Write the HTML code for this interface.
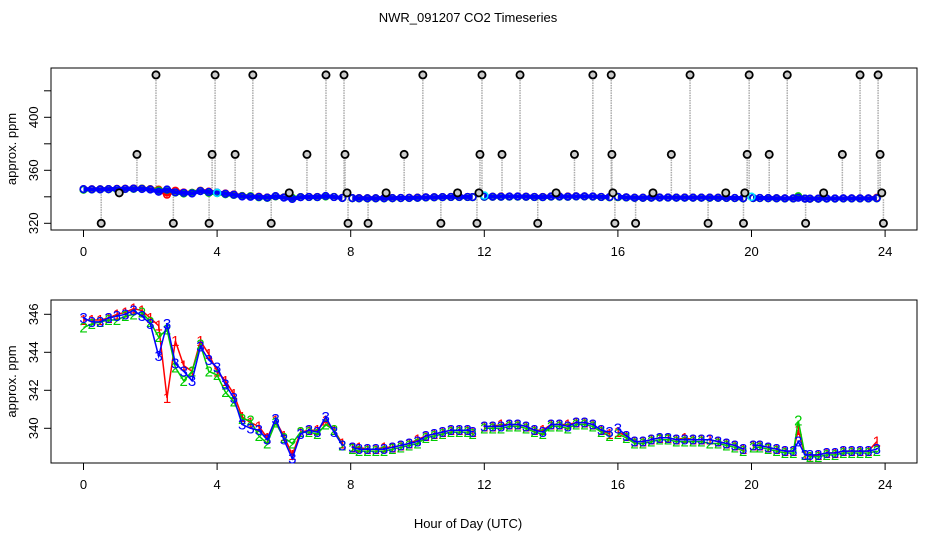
<!DOCTYPE html>
<html><head><meta charset="utf-8">
<style>
html,body{margin:0;padding:0;background:#fff;}
svg{display:block;font-family:"Liberation Sans",sans-serif;}
</style></head>
<body>
<svg id="chart" width="936" height="540" viewBox="0 0 936 540">
<rect x="0" y="0" width="936" height="540" fill="#fff"/>
<text x="468" y="22" text-anchor="middle" font-size="13">NWR_091207  CO2 Timeseries</text>
<text x="468" y="528" text-anchor="middle" font-size="13">Hour of Day (UTC)</text>
<g id="topPanel"></g>
<g id="botPanel"></g>
</svg>
<script>
const hours = [0,0.25,0.5,0.75,1,1.25,1.5,1.75,2,2.25,2.5,2.75,3,3.25,3.5,3.75,4,4.25,4.5,4.75,5,5.25,5.5,5.75,6,6.25,6.5,6.75,7,7.25,7.5,7.75,7.9,8.05,8.25,8.5,8.75,9,9.25,9.5,9.75,10,10.25,10.5,10.75,11,11.25,11.5,11.65,11.8,12,12.25,12.5,12.75,13,13.25,13.5,13.75,14,14.25,14.5,14.75,15,15.25,15.5,15.75,15.9,16,16.25,16.5,16.75,17,17.25,17.5,17.75,18,18.25,18.5,18.75,19,19.25,19.5,19.75,19.9,20.05,20.25,20.5,20.75,21,21.25,21.4,21.6,21.75,22,22.25,22.5,22.75,23,23.25,23.5,23.75];
const series3 = [345.8,345.6,345.6,345.8,345.9,346.0,346.2,345.9,345.5,343.8,345.5,343.4,343.0,342.5,344.3,343.6,343.2,342.3,341.6,340.2,340.0,339.9,339.4,340.5,339.4,338.4,339.7,339.9,339.8,340.6,339.8,339.1,null,339.0,338.9,338.9,338.9,338.9,339.0,339.1,339.2,339.3,339.6,339.7,339.8,339.9,339.9,339.9,339.8,null,340.1,340.1,340.1,340.2,340.2,340.1,339.9,339.8,340.2,340.2,340.1,340.3,340.3,340.2,339.9,339.8,null,340.0,339.6,339.3,339.3,339.4,339.5,339.5,339.4,339.4,339.4,339.4,339.4,339.3,339.2,339.1,338.9,null,339.1,339.1,339.0,338.9,338.8,338.8,339.3,338.6,338.6,338.6,338.7,338.7,338.8,338.8,338.8,338.8,338.9];
const series2 = [345.3,345.5,345.6,345.7,345.7,345.9,346.0,346.1,345.6,344.8,345.2,343.2,342.5,343.0,344.4,343.0,342.8,341.9,341.4,340.5,340.4,339.6,339.2,340.3,339.5,339.2,339.8,339.8,339.7,340.2,339.9,339.1,null,338.9,338.8,338.8,338.8,338.8,338.9,339.0,339.1,339.2,339.5,339.6,339.7,339.8,339.8,339.8,339.7,null,340.0,340.0,340.0,340.1,340.1,340.0,339.8,339.7,340.1,340.1,340.0,340.2,340.2,340.1,339.8,339.6,null,339.7,339.5,339.2,339.2,339.3,339.4,339.4,339.3,339.3,339.3,339.3,339.2,339.2,339.1,339.0,338.8,null,339.0,339.0,338.9,338.8,338.7,338.7,340.4,338.6,338.5,338.5,338.6,338.6,338.7,338.7,338.7,338.7,338.8];
const series1 = [345.7,345.7,345.7,345.8,346.0,346.1,346.3,346.2,345.8,345.4,341.6,344.6,343.3,343.0,344.6,343.9,343.0,342.5,341.8,340.6,340.3,340.1,339.5,340.4,339.6,338.6,339.8,339.9,339.9,340.4,339.9,339.2,null,339.0,339.0,338.9,338.9,339.0,339.0,339.1,339.2,339.4,339.6,339.7,339.8,339.9,339.9,339.9,339.8,null,340.1,340.1,340.2,340.2,340.2,340.1,339.9,339.9,340.2,340.2,340.2,340.3,340.3,340.2,339.9,339.7,null,339.8,339.6,339.3,339.3,339.4,339.5,339.5,339.4,339.5,339.4,339.4,339.4,339.3,339.2,339.1,338.9,null,339.1,339.1,339.0,338.9,338.8,338.8,339.9,338.6,338.5,338.6,338.7,338.7,338.8,338.8,338.8,338.8,339.3];
const outlierHours = [2.17,3.94,5.07,7.26,7.8,10.16,11.93,13.07,15.25,15.8,18.16,19.93,21.07,23.25,23.79, 1.6,3.85,4.54,6.69,7.83,9.6,11.87,12.53,14.7,15.82,17.6,19.87,20.53,22.72,23.85, 1.07,6.16,7.89,9.06,11.2,11.84,14.15,15.85,17.05,19.23,19.8,22.16,23.9, 0.53,2.69,3.76,5.62,7.92,8.52,10.7,11.78,13.6,15.91,16.53,18.7,19.76,21.62,23.95];
const outlierValues = [432,432,432,432,432,432,432,432,432,432,432,432,432,432,432, 372,372,372,372,372,372,372,372,372,372,372,372,372,372,372, 343,343,343,343,343,343,343,343,343,343,343,343,343, 320,320,320,320,320,320,320,320,320,320,320,320,320,320,320];
const cyanHours = [4.0,12.0,20.0];
const cyanValues = [343,341,340];
const xTicks = [0,4,8,12,16,20,24];
const topYTicks = [320,340,360,380,400,420];
const topYLabels = ["320","","360","","400",""];
const botYTicks = [340,342,344,346];
const botYLabels = ["340","342","344","346"];

const NS = "http://www.w3.org/2000/svg";
function mk(parent, tag, attrs){const e=document.createElementNS(NS,tag);for(const k in attrs)e.setAttribute(k,attrs[k]);parent.appendChild(e);return e;}
const xs = h => 83.5 + h*33.4;
const yTop = v => 223.3 - (v-320)*1.325;
const yBot = v => 314.3 - (v-346)*19;

function frame(g, y0, y1, ys, ticks, labels, prefix){
  let r=mk(g,'rect',{x:51,y:y0,width:866,height:y1-y0,fill:'none',stroke:'#000','stroke-width':1});
  
  
  xTicks.forEach(t=>{
    let l=mk(g,'line',{x1:xs(t),x2:xs(t),y1:y1,y2:y1+7,stroke:'#000'});
    
    
    let tx=mk(g,'text',{x:xs(t),y:y1+26,'text-anchor':'middle','font-size':13});
    tx.textContent=t;
    
    
  });
  ticks.forEach((t,i)=>{
    let y=ys(t);
    let l=mk(g,'line',{x1:44,x2:51,y1:y,y2:y,stroke:'#000'});
    
    
    if(labels[i]){
      let tx=mk(g,'text',{x:0,y:0,'text-anchor':'middle','font-size':13,transform:`translate(38,${y}) rotate(-90)`});
      tx.textContent=labels[i];
      
      
    }
  });
  let yl=mk(g,'text',{x:0,y:0,'text-anchor':'middle','font-size':13,transform:`translate(16,${(y0+y1)/2}) rotate(-90)`});
  yl.textContent='approx. ppm';
  
  
}

function segs(vals, ys){
  const out=[];let cur=[];
  vals.forEach((v,i)=>{if(v===null){if(cur.length)out.push(cur);cur=[];}else cur.push([xs(hours[i]),ys(v)]);});
  if(cur.length)out.push(cur);return out;
}

// TOP PANEL
const topG=document.getElementById('topPanel');
frame(topG,68,230,yTop,topYTicks,topYLabels,'top');
function baseAt(h){let best=0,bd=1e9;hours.forEach((x,i)=>{if(series3[i]!==null&&Math.abs(x-h)<bd){bd=Math.abs(x-h);best=series3[i];}});return best;}
outlierHours.forEach((h,i)=>{
  let l=mk(topG,'line',{x1:xs(h),x2:xs(h),y1:yTop(outlierValues[i]),y2:yTop(baseAt(h)),stroke:'#aaa','stroke-width':1.5,'stroke-dasharray':'1.5 1'});
  
  
});
[[series1,'#ff0000'],[series2,'#00cc00'],[series3,'#0000ff']].forEach(([s,c],k)=>{
  segs(s,yTop).forEach(sg=>{
    let p=mk(topG,'polyline',{points:sg.map(q=>q.join(',')).join(' '),fill:'none',stroke:c,'stroke-width':4});
    
    
  });
  s.forEach((v,i)=>{if(v===null)return;
    let ci=mk(topG,'circle',{cx:xs(hours[i]),cy:yTop(v),r:3.3,fill:'none',stroke:c,'stroke-width':1.6});
    
    
  });
});
cyanHours.forEach((h,i)=>{
  let ci=mk(topG,'circle',{cx:xs(h),cy:yTop(cyanValues[i]),r:3.5,fill:'none',stroke:'#00e5ff','stroke-width':1.5});
  
  
});
outlierHours.forEach((h,i)=>{
  let ci=mk(topG,'circle',{cx:xs(h),cy:yTop(outlierValues[i]),r:3.6,fill:'#ccc',stroke:'#000','stroke-width':1.8});
  
  
});

// BOTTOM PANEL
const botG=document.getElementById('botPanel');
frame(botG,300,463,yBot,botYTicks,botYLabels,'bottom');
[[series1,'#ff0000','1'],[series2,'#00cc00','2'],[series3,'#0000ff','3']].forEach(([s,c,ch])=>{
  segs(s,yBot).forEach(sg=>{
    let p=mk(botG,'polyline',{points:sg.map(q=>q.join(',')).join(' '),fill:'none',stroke:c,'stroke-width':1.5});
    
    
  });
  s.forEach((v,i)=>{if(v===null)return;
    let t=mk(botG,'text',{x:xs(hours[i]),y:yBot(v)+5,'text-anchor':'middle','font-size':15,fill:c});
    t.textContent=ch;
    
    
  });
});
</script>
</body></html>
